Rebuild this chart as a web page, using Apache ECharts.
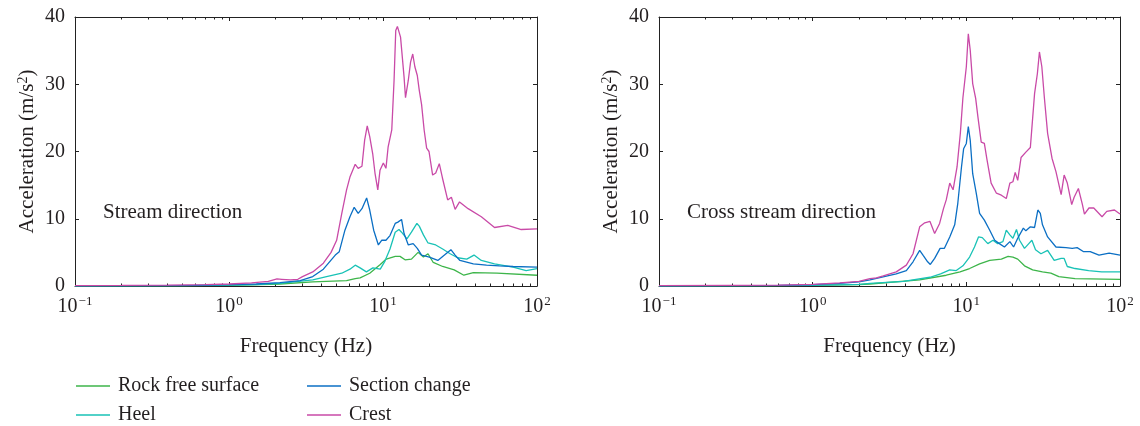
<!DOCTYPE html>
<html>
<head>
<meta charset="utf-8">
<script src="https://cdn.jsdelivr.net/npm/echarts@6/dist/echarts.min.js"></script>
<style>html,body{margin:0;padding:0;background:#fff}#c{width:1140px;height:426px}</style>
</head>
<body>
<div id="c"></div>
<script>
// ---- data: [frequency (Hz), acceleration (m/s^2)] ----
const seriesNames = ['Rock free surface', 'Heel', 'Section change', 'Crest'];
const panelTitles = ['Stream direction', 'Cross stream direction'];
const xMajorTicks = [0.1, 1, 10, 100];
const xMinorTicks = [0.2,0.3,0.4,0.5,0.6,0.7,0.8,0.9,2,3,4,5,6,7,8,9,20,30,40,50,60,70,80,90];
const yTicks = [0, 10, 20, 30, 40];

const streamRock = [[0.1,0.02],[0.5,0.05],[1,0.1],[2.14,0.3],[3.5,0.6],[5.8,0.8],[6.6,1.1],[7.1,1.2],[8.2,1.9],[9.6,3.2],[10.5,4.0],[12,4.4],[12.9,4.4],[13.9,3.9],[15.3,4.0],[16.9,5.0],[18.3,4.3],[19.6,4.8],[21.2,3.5],[24.4,2.9],[29,2.4],[33.5,1.6],[38.6,2.0],[55,1.9],[100,1.6]];
const streamHeel = [[0.1,0.02],[0.5,0.06],[1,0.12],[1.5,0.2],[2.14,0.4],[3.5,0.9],[4.3,1.4],[5.4,1.9],[6.1,2.5],[6.6,3.1],[7.1,2.7],[7.8,2.1],[8.6,2.7],[9.6,2.5],[10.3,3.7],[11.1,5.5],[12.0,8.0],[12.7,8.4],[13.2,8.0],[14.3,7.0],[15.3,8.0],[16.6,9.3],[17.2,8.9],[18.3,7.6],[19.6,6.4],[22,6.1],[24.4,5.5],[27.3,4.8],[30.5,4.2],[35,4.0],[39,4.6],[43.5,3.8],[53,3.3],[70,2.8],[85,2.3],[100,2.6]];
const streamSection = [[0.1,0.03],[0.3,0.06],[0.6,0.1],[1,0.2],[1.5,0.3],[2.14,0.5],[2.9,0.8],[3.5,1.4],[4.1,2.5],[4.9,4.6],[5.2,5.1],[5.66,8.3],[6.1,10.3],[6.5,11.7],[6.9,10.8],[7.3,11.5],[7.83,13.1],[8.2,11.3],[8.7,8.3],[9.33,6.1],[9.8,6.8],[10.45,6.8],[11.1,7.5],[12.0,9.3],[12.5,9.5],[13.2,9.9],[13.7,7.8],[14.6,6.1],[15.7,6.3],[16.7,5.6],[17.8,4.6],[20,4.3],[22.7,3.8],[24.4,4.4],[27.6,5.4],[29.4,4.6],[31.6,3.8],[38.6,3.3],[47,3.1],[57,3.0],[70,2.9],[100,2.8]];
const streamCrest = [[0.1,0.05],[0.2,0.08],[0.4,0.12],[0.7,0.2],[1,0.3],[1.4,0.45],[1.8,0.7],[2.05,1.05],[2.2,1.0],[2.5,0.9],[2.8,1.0],[3.0,1.4],[3.5,2.1],[4.1,3.4],[4.6,5.0],[5.0,6.8],[5.4,10.8],[5.8,14.3],[6.1,16.2],[6.6,18.1],[6.9,17.5],[7.3,17.8],[7.6,21.7],[7.9,23.8],[8.2,22.2],[8.57,19.7],[8.87,16.8],[9.25,14.3],[9.56,17.2],[10.05,18.3],[10.45,17.5],[10.8,20.7],[11.4,23.2],[11.8,30.6],[12.1,38.0],[12.4,38.6],[12.7,38.5],[13.0,37.0],[13.3,37.2],[13.7,31.1],[14.0,28.0],[14.6,30.6],[15.1,33.3],[15.6,34.5],[16.1,32.6],[16.7,31.3],[17.2,29.1],[17.8,27.0],[18.5,23.2],[19.2,20.5],[19.9,20.0],[21.0,16.5],[22.0,16.8],[23.2,18.2],[24.3,16.1],[26.3,12.8],[27.8,13.2],[29.4,11.4],[31.4,12.5],[35.7,11.5],[43.5,10.3],[53,8.7],[64.6,9.0],[79,8.4],[100,8.5]];

const crossRock = [[0.1,0.02],[0.5,0.05],[1,0.1],[2,0.2],[2.36,0.3],[4.97,0.9],[7.4,1.6],[9.1,2.1],[10.5,2.6],[12.2,3.3],[14.2,3.8],[16.9,4.0],[18.7,4.4],[20.1,4.3],[21.6,4.0],[23.9,3.0],[27,2.4],[31.3,2.1],[35.5,1.9],[40,1.4],[51,1.1],[100,1.0]];
const crossHeel = [[0.1,0.02],[0.5,0.05],[1,0.1],[2,0.25],[2.36,0.4],[3.9,0.7],[5.8,1.3],[6.8,1.8],[7.8,2.4],[8.6,2.3],[9.5,3.0],[10.5,4.3],[11.3,5.8],[12.0,7.3],[12.7,7.2],[13.8,6.3],[14.9,6.8],[16.0,6.3],[17.3,6.6],[18.2,8.3],[19.2,7.6],[20.1,7.1],[21.2,8.4],[22.2,6.8],[23.9,5.6],[25.5,6.3],[26.7,6.8],[28.2,5.4],[30.6,4.8],[33.8,5.3],[37.3,3.8],[41.4,4.1],[43.3,4.1],[45.4,2.9],[51,2.6],[62.5,2.3],[76,2.1],[100,2.1]];
const crossSection = [[0.1,0.04],[0.3,0.07],[0.6,0.1],[1,0.2],[1.5,0.4],[2,0.6],[2.36,0.9],[3.5,1.8],[4.07,2.3],[4.5,3.6],[4.97,5.3],[5.25,4.5],[5.6,3.6],[5.83,3.2],[6.22,4.1],[6.75,5.6],[7.2,5.6],[7.8,7.3],[8.4,9.1],[8.8,12.3],[9.3,17.7],[9.6,20.4],[10,21.2],[10.3,23.7],[10.6,21.7],[11,16.7],[11.6,13.8],[12.2,10.8],[13.1,9.8],[14.2,8.3],[15.3,6.8],[16.4,6.3],[17.7,5.8],[19.2,6.6],[20.3,5.8],[21.6,7.1],[23.5,8.6],[24.4,8.2],[26.1,8.8],[27.8,8.7],[29.2,11.3],[30.3,10.8],[31.3,9.1],[33.8,7.3],[38.3,5.8],[44.5,5.7],[48.9,5.6],[52.6,5.7],[58,5.1],[64,5.1],[73,4.6],[85,4.9],[100,4.6]];
const crossCrest = [[0.1,0.05],[0.3,0.08],[0.6,0.12],[1,0.25],[1.5,0.45],[2,0.7],[2.36,1.1],[2.6,1.2],[2.88,1.5],[3.5,2.1],[4.07,3.1],[4.5,4.8],[4.97,8.8],[5.36,9.4],[5.8,9.6],[6.22,7.8],[6.7,9.3],[7.1,11.5],[7.4,12.8],[7.8,15.3],[8.2,14.3],[8.7,17.7],[9.14,22.7],[9.5,28.0],[10,32.6],[10.3,37.5],[10.6,35.1],[11.0,30.1],[11.5,27.9],[11.9,25.1],[12.5,21.4],[13.1,21.2],[13.6,18.9],[14.5,15.3],[15.7,13.8],[16.9,13.5],[18.2,13.0],[19.2,15.3],[20.1,15.5],[20.8,16.9],[21.6,15.7],[22.7,19.1],[24.4,19.9],[26.1,20.6],[27.8,28.6],[29,31.6],[29.9,34.8],[31,32.6],[32.2,28.0],[33.8,22.7],[36.1,19.0],[38.3,17.0],[41.4,13.6],[43.3,16.5],[45.4,15.3],[48.5,12.1],[50.3,13.2],[53.6,14.5],[56.8,12.2],[58.7,10.7],[62.8,11.6],[67.5,11.6],[76.4,10.3],[82,11.1],[92,11.3],[100,10.7]];

const panels = [
  [streamRock, streamHeel, streamSection, streamCrest],
  [crossRock, crossHeel, crossSection, crossCrest]
];
const colors = ['#3db54a', '#19c2b6', '#0b6fc4', '#c94aa7'];

// ---- chart ----
const FONT = 'Liberation Serif';
const TXT = '#231f20';
const chart = echarts.init(document.getElementById('c'), null, {renderer: 'canvas'});

const grids = [
  {left: 75, right: 603, top: 17, bottom: 140},
  {left: 659, right: 20, top: 17, bottom: 140}
];

function expLabel(v) {
  const e = Math.round(Math.log10(v));
  return '{b|10}{sup|' + (e < 0 ? '\u2212' + (-e) : e) + '}';
}

const xAxes = [], yAxes = [];
grids.forEach((g, gi) => {
  const base = {type: 'log', logBase: 10, min: 0.1, max: 100, gridIndex: gi, splitLine: {show: false}};
  // bottom major
  xAxes.push(Object.assign({}, base, {
    position: 'bottom',
    name: 'Frequency (Hz)', nameLocation: 'middle', nameGap: 50,
    nameTextStyle: {fontFamily: FONT, fontSize: 21, color: TXT},
    axisLine: {onZero: false, lineStyle: {color: '#222', width: 1}},
    axisTick: {inside: true, length: 4, customValues: xMajorTicks, lineStyle: {color: '#222'}},
    axisLabel: {customValues: xMajorTicks, margin: 9, formatter: expLabel, color: TXT,
      rich: {b: {fontFamily: FONT, fontSize: 20, color: TXT, lineHeight: 22, verticalAlign: 'bottom'},
             sup: {fontFamily: FONT, fontSize: 13, color: TXT, lineHeight: 22, verticalAlign: 'top', padding: [0,0,0,1]}}}
  }));
  // bottom minor
  xAxes.push(Object.assign({}, base, {
    position: 'bottom', axisLine: {show: false, onZero: false}, axisLabel: {show: false},
    axisTick: {inside: true, length: 2.5, customValues: xMinorTicks, lineStyle: {color: '#222'}}
  }));
  // top major
  xAxes.push(Object.assign({}, base, {
    position: 'top', axisLine: {onZero: false, lineStyle: {color: '#222', width: 1}}, axisLabel: {show: false},
    axisTick: {inside: true, length: 4, customValues: xMajorTicks, lineStyle: {color: '#222'}}
  }));
  // top minor
  xAxes.push(Object.assign({}, base, {
    position: 'top', axisLine: {show: false, onZero: false}, axisLabel: {show: false},
    axisTick: {inside: true, length: 2.5, customValues: xMinorTicks, lineStyle: {color: '#222'}}
  }));
  const ybase = {type: 'value', min: 0, max: 40, interval: 10, gridIndex: gi, splitLine: {show: false}};
  yAxes.push(Object.assign({}, ybase, {
    position: 'left',
    name: 'Acceleration (m/s{sup|2})', nameLocation: 'middle', nameGap: 37,
    nameTextStyle: {fontFamily: FONT, fontSize: 21, color: TXT,
      rich: {sup: {fontFamily: FONT, fontSize: 14, color: TXT, verticalAlign: 'top', lineHeight: 22}}},
    axisLine: {show: true, onZero: false, lineStyle: {color: '#222', width: 1}},
    axisTick: {inside: true, length: 4, lineStyle: {color: '#222'}},
    axisLabel: {fontFamily: FONT, fontSize: 20, color: TXT, margin: 10}
  }));
  yAxes.push(Object.assign({}, ybase, {
    position: 'right',
    axisLine: {show: true, onZero: false, lineStyle: {color: '#222', width: 1}},
    axisTick: {inside: true, length: 4, lineStyle: {color: '#222'}},
    axisLabel: {show: false}
  }));
});

const series = [];
panels.forEach((p, gi) => {
  p.forEach((data, si) => {
    series.push({
      type: 'line', name: seriesNames[si], data: data,
      xAxisIndex: gi * 4, yAxisIndex: gi * 2,
      symbol: 'none', smooth: false, clip: true,
      lineStyle: {width: 1.3, color: colors[si]}, itemStyle: {color: colors[si]},
      z: 2 + si
    });
  });
});

const legendCommon = {icon: 'rect', itemWidth: 34, itemHeight: 1.5, padding: 0,
  textStyle: {fontFamily: FONT, fontSize: 20, color: TXT, padding: [0,0,0,3]}, selectedMode: false};
const legendPos = [[76, 376], [76, 405], [307, 376], [307, 405]];

chart.setOption({
  animation: false,
  backgroundColor: '#fff',
  grid: grids,
  xAxis: xAxes,
  yAxis: yAxes,
  legend: seriesNames.map((n, i) => Object.assign({}, legendCommon, {left: legendPos[i][0], top: legendPos[i][1], data: [n]})),
  graphic: [
    {type: 'text', left: 103, top: 202, style: {text: panelTitles[0], font: '21px "' + FONT + '"', fill: TXT}},
    {type: 'text', left: 687, top: 202, style: {text: panelTitles[1], font: '21px "' + FONT + '"', fill: TXT}}
  ],
  series: series
});
</script>
</body>
</html>
